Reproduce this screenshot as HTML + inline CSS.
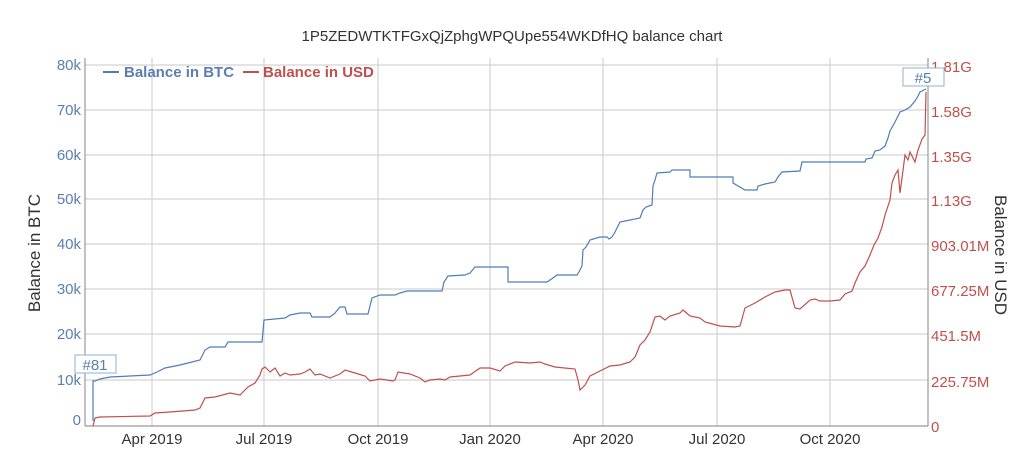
<!DOCTYPE html>
<html><head><meta charset="utf-8"><style>body{margin:0;background:#fff}svg{display:block}text{font-family:"Liberation Sans",sans-serif}</style></head><body>
<svg width="1024" height="457" viewBox="0 0 1024 457">
<text x="512" y="41" text-anchor="middle" font-size="15" fill="#333">1P5ZEDWTKTFGxQjZphgWPQUpe554WKDfHQ balance chart</text>
<g stroke="#d3d3d3" stroke-width="1.2">
<line x1="85" y1="65" x2="928" y2="65"/><line x1="85" y1="110" x2="928" y2="110"/><line x1="85" y1="155" x2="928" y2="155"/><line x1="85" y1="199" x2="928" y2="199"/><line x1="85" y1="244" x2="928" y2="244"/><line x1="85" y1="289" x2="928" y2="289"/><line x1="85" y1="334" x2="928" y2="334"/><line x1="85" y1="380" x2="928" y2="380"/>
<line x1="152" y1="58" x2="152" y2="426"/><line x1="264" y1="58" x2="264" y2="426"/><line x1="378" y1="58" x2="378" y2="426"/><line x1="490" y1="58" x2="490" y2="426"/><line x1="603" y1="58" x2="603" y2="426"/><line x1="717" y1="58" x2="717" y2="426"/><line x1="830" y1="58" x2="830" y2="426"/>
</g>
<g stroke="#999" stroke-width="1.2"><line x1="85" y1="58" x2="85" y2="426"/><line x1="928" y1="58" x2="928" y2="426"/><line x1="85" y1="426" x2="928" y2="426"/></g>
<g font-size="15" fill="#5b7fb0" text-anchor="end">
<text x="81" y="70">80k</text><text x="81" y="115">70k</text><text x="81" y="160">60k</text><text x="81" y="204">50k</text><text x="81" y="249">40k</text><text x="81" y="294">30k</text><text x="81" y="339">20k</text><text x="81" y="385">10k</text><text x="81" y="425">0</text></g>
<g font-size="15" fill="#c0504d">
<text x="931" y="72">1.81G</text><text x="931" y="117">1.58G</text><text x="931" y="162">1.35G</text><text x="931" y="206">1.13G</text><text x="931" y="251">903.01M</text><text x="931" y="296">677.25M</text><text x="931" y="341">451.5M</text><text x="931" y="387">225.75M</text><text x="931" y="432">0</text></g>
<g font-size="15" fill="#333" text-anchor="middle">
<text x="152" y="444">Apr 2019</text><text x="264" y="444">Jul 2019</text><text x="378" y="444">Oct 2019</text><text x="490" y="444">Jan 2020</text><text x="603" y="444">Apr 2020</text><text x="717" y="444">Jul 2020</text><text x="830" y="444">Oct 2020</text></g>
<text transform="translate(40,253) rotate(-90)" text-anchor="middle" font-size="17" fill="#333">Balance in BTC</text>
<text transform="translate(995,255) rotate(90)" text-anchor="middle" font-size="17" fill="#333">Balance in USD</text>
<polyline fill="none" stroke="#c0504d" stroke-width="1.2" points="93,426 95,418 100,417 150,416 155,413 170,412 195,410 200,408 205,398 215,397 230,393 240,395 248,387 255,383 260,375 262,369 265,367 270,372 275,368 280,376 285,373 290,375 300,374 305,372 310,369 315,375 320,374 330,378 340,374 345,370 355,373 365,376 370,381 380,379 393,381 395,380 398,372 410,374 420,378 425,382 430,380 440,379 445,380 450,377 460,376 470,375 480,368 490,368 500,371 505,366 515,362 530,363 540,362 545,364 555,367 575,369 578,380 580,390 585,385 590,376 600,371 610,366 620,365 630,362 635,357 640,345 645,340 650,332 655,317 660,316 665,320 670,316 680,313 683,310 690,316 700,318 705,322 720,326 735,327 740,326 745,308 755,303 765,297 775,292 785,290 790,290 795,308 800,309 810,300 815,299 820,301 830,301 840,300 845,294 852,291 855,283 860,272 865,266 870,255 874,245 878,238 882,227 885,215 890,200 892,183 895,175 898,170 900,193 902,178 905,155 908,160 910,152 915,162 918,150 922,139 925,135 926,92"/>
<polyline fill="none" stroke="#4f7db5" stroke-width="1.2" points="93,421 93,381 95,381 100,379 110,377 150,375 157,372 165,368 180,365 200,360 205,350 210,347 225,347 228,342 262,342 264,320 285,318 290,315 300,313 310,313 312,317 330,317 335,313 340,307 345,307 347,314 368,314 370,306 372,298 380,295 395,295 400,293 407,291 442,291 444,282 448,276 465,275 470,273 475,267 508,267 508,282 547,282 553,278 557,275 577,275 580,270 582,266 583,250 586,247 590,240 600,237 607,237 609,239 612,237 615,232 620,222 630,220 640,218 643,210 646,207 652,205 653,186 655,180 657,173 670,172 672,170 690,170 690,177 733,177 733,183 745,190 757,190 758,186 765,184 775,182 778,177 782,172 800,171 802,162 865,162 866,159 872,158 875,151 880,150 885,146 888,138 890,131 895,122 900,112 905,110 910,107 915,101 918,96 920,92 926,89"/>
<rect x="75" y="355" width="41" height="18" fill="#fff" stroke="#8fb0d3"/><text x="95" y="370" text-anchor="middle" font-size="15" fill="#5b7fb0">#81</text>
<rect x="903" y="68" width="41" height="18" fill="#fff" stroke="#8fb0d3"/><text x="923" y="83" text-anchor="middle" font-size="15" fill="#5b7fb0">#5</text>
<line x1="103" y1="72" x2="119" y2="72" stroke="#4f7db5" stroke-width="2"/><text x="124" y="77" font-size="15" font-weight="bold" fill="#5b7fb0">Balance in BTC</text>
<line x1="243" y1="72" x2="259" y2="72" stroke="#c0504d" stroke-width="2"/><text x="263" y="77" font-size="15" font-weight="bold" fill="#c0504d">Balance in USD</text>
</svg></body></html>
